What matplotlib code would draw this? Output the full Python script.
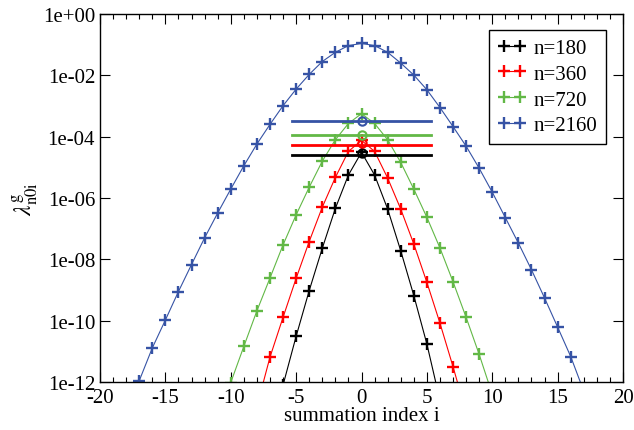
import numpy as np
import matplotlib
matplotlib.use("Agg")
import matplotlib.pyplot as plt
from matplotlib.ticker import MultipleLocator, FixedLocator, FuncFormatter

plt.rcParams["font.family"] = ["Liberation Serif", "DejaVu Serif"]
plt.rcParams["mathtext.fontset"] = "stix"
plt.rcParams["axes.unicode_minus"] = False

# --- donnees (log10 de lambda) ---
i_180 = np.arange(-6, 7)
log_180 = [-12.1, -10.51, -9.02, -7.64, -6.34, -5.25, -4.51,
           -5.25, -6.36, -7.72, -9.18, -10.76, -12.6]

i_360 = np.arange(-8, 9)
log_360 = [-12.8, -11.19, -9.89, -8.62, -7.42, -6.30, -5.33, -4.48, -4.12,
           -4.48, -5.35, -6.36, -7.50, -8.75, -10.08, -11.5, -13.0]

i_720 = np.arange(-11, 11)
log_720 = [-13.2, -12.02, -10.84, -9.68, -8.61, -7.53, -6.55, -5.65, -4.80,
           -4.10, -3.57, -3.25, -3.57, -4.10, -4.84, -5.71, -6.63, -7.63,
           -8.73, -9.89, -11.1, -12.4]

i_2160 = np.arange(-18, 19)
log_2160 = [-13.1, -11.96, -10.89, -9.98, -9.05, -8.17, -7.30, -6.49, -5.71,
            -4.95, -4.24, -3.60, -2.99, -2.45, -1.97, -1.55, -1.25, -1.03,
            -0.96, -1.03, -1.25, -1.60, -1.99, -2.47, -3.05, -3.67, -4.31,
            -5.03, -5.81, -6.64, -7.47, -8.34, -9.26, -10.21, -11.17, -12.3,
            -13.4]

labels = ["n=180", "n=360", "n=720", "n=2160"]
colors = ["black", "#ff0000", "#62b846", "#3653a5"]
hline_log = [-4.59, -4.26, -3.95, -3.48]     # niveaux horizontaux
circle_log = [-4.53, -4.22, -3.93, -3.48]    # cercles en i = 0
hline_x = [-5.35, 5.35]

series = [(i_180, log_180), (i_360, log_360), (i_720, log_720), (i_2160, log_2160)]

fig = plt.figure(figsize=(6.34, 4.31), dpi=100)
ax = fig.add_axes([100 / 634, 1 - 383 / 431, 523 / 634, 368 / 431])

for (xs, ls), lab, col in zip(series, labels, colors):
    ax.plot(xs, 10.0 ** np.asarray(ls), "-", color=col, lw=0.8,
            marker="+", ms=8.5, mew=1.7, label=lab)

for hv, cv, col in zip(hline_log, circle_log, colors):
    ax.plot(hline_x, [10.0 ** hv] * 2, "-", color=col, lw=2)
    ax.plot([0], [10.0 ** cv], "o", color=col, ms=6, mfc="none", mew=1.5)

ax.set_yscale("log")
ax.set_xlim(-20, 20)
ax.set_ylim(1e-12, 1)
ax.xaxis.set_major_locator(MultipleLocator(5))
ax.xaxis.set_minor_locator(MultipleLocator(1))
ax.yaxis.set_major_locator(FixedLocator([10.0 ** e for e in range(-12, 1, 2)]))
ax.yaxis.set_minor_locator(FixedLocator([]))
ax.yaxis.set_major_formatter(FuncFormatter(
    lambda v, p: "1e%+03d" % int(round(np.log10(v)))))

ax.tick_params(which="both", direction="in", top=True, right=True,
               labelsize=15, width=0.8)
ax.tick_params(which="major", length=7.5)
ax.tick_params(which="minor", length=3.8)
ax.tick_params(axis="x", pad=4.5)
for sp in ax.spines.values():
    sp.set_linewidth(1.0)

ax.set_xlabel("summation index i", fontsize=15, labelpad=-1)
ax.set_ylabel(r"$\lambda^{\rm g}_{\rm n0i}$", fontsize=17, labelpad=2)

leg = ax.legend(loc="upper right", bbox_to_anchor=(0.9675, 0.9565),
                borderaxespad=0, fontsize=15, numpoints=2, handlelength=1.4,
                handletextpad=0.35, labelspacing=0.3, fancybox=False,
                framealpha=1, edgecolor="black", borderpad=0.4)
leg.get_frame().set_linewidth(1.0)

fig.savefig("out.png", dpi=100)
